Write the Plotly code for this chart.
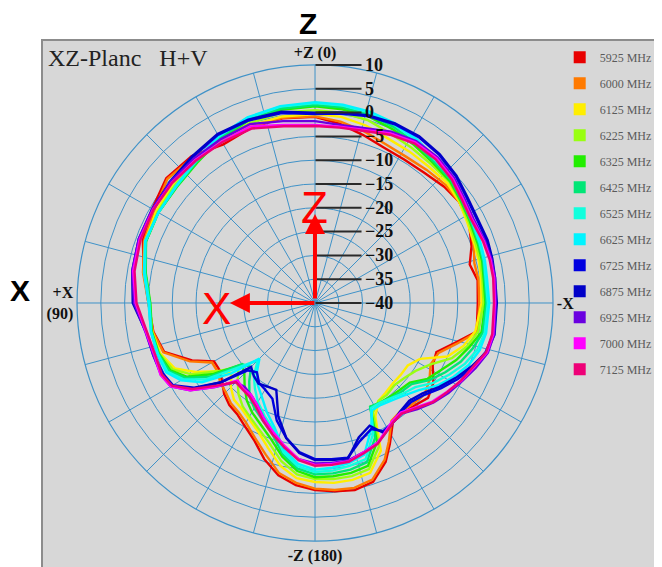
import plotly.graph_objects as go

# angles (deg) shared by every series; 0 = +Z (top), 90 = +X (left)
theta = [0, 10, 20, 30, 40, 50, 60, 70, 80, 90,
         100, 108, 115, 120, 125, 130, 135, 140, 145, 150,
         156, 162, 168, 174, 180,
         186, 192, 198, 204, 208,
         213, 218, 224, 230, 236,
         242, 248, 254, 260, 270,
         278, 284, 290, 298, 305,
         312, 320, 328, 336, 344, 352]

freqs = ["5925 MHz", "6000 MHz", "6125 MHz", "6225 MHz", "6325 MHz", "6425 MHz", "6525 MHz",
         "6625 MHz", "6725 MHz", "6875 MHz", "6925 MHz", "7000 MHz", "7125 MHz"]
colors = ["#e80000", "#ff7a00", "#ffee00", "#99ff11", "#22ee00", "#00e676", "#11ffdd",
          "#00f4ff", "#0000e0", "#0000c8", "#6a00e0", "#ff00ff", "#ee0077"]

gain_5925 = [-0.9, -0.6, -0.8, -1.5, 0.3, 0.8, -0.5, -1.5, -3.5, -5.0,
             -5.5, -6.7, -11.5, -15.5, -15.5, -14.5, -13.0, -12.0, -11.5, -10.3,
             -8.5, -5.5, -3.0, -1.5, -0.7,
             -0.2, 0.2, -0.5, -3.5, -6.5,
             -10.0, -10.5, -10.0, -9.0, -10.0,
             -12.0, -12.5, -9.5, -5.5, -5.8,
             -5.5, -6.5, -5.0, -3.4, -3.0,
             -3.5, -4.3, -4.5, -4.3, -3.3, -2.0]
gain_6000 = [-0.8, -0.5, -0.6, -1.0, 0.0, 0.5, -1.0, -1.8, -3.3, -5.0,
             -5.4, -6.5, -11.0, -15.0, -15.0, -14.0, -13.5, -12.5, -12.0, -11.0,
             -9.0, -6.5, -3.5, -2.0, -1.0,
             -0.5, -0.3, -1.0, -4.0, -7.0,
             -10.5, -11.0, -10.5, -10.0, -11.0,
             -12.5, -12.0, -9.0, -5.3, -5.5,
             -5.3, -5.5, -4.5, -3.6, -3.0,
             -3.0, -3.5, -3.8, -3.5, -2.5, -1.5]
gain_6125 = [-0.3, -0.2, -0.3, -0.7, -0.8, -1.0, -1.5, -2.0, -3.5, -5.2,
             -5.3, -5.8, -7.5, -11.0, -15.0, -17.0, -15.0, -13.5, -13.0, -12.0,
             -10.5, -8.0, -5.0, -3.0, -2.4,
             -2.0, -2.0, -2.5, -6.0, -13.0,
             -15.5, -16.0, -16.5, -16.5, -16.5,
             -15.0, -10.0, -7.5, -5.8, -5.0,
             -4.8, -4.5, -4.3, -3.8, -3.0,
             -2.5, -2.7, -2.5, -2.2, -1.2, -0.5]
gain_6225 = [0.5, 0.6, 0.2, -0.5, -1.2, -1.5, -1.8, -2.2, -3.8, -5.3,
             -5.2, -5.6, -7.0, -10.0, -15.0, -19.0, -17.0, -15.0, -13.5, -12.5,
             -11.0, -9.0, -6.0, -3.8, -3.0,
             -2.8, -2.8, -3.3, -7.0, -14.0,
             -15.5, -15.5, -16.0, -15.5, -14.5,
             -12.5, -9.0, -6.8, -5.2, -4.6,
             -4.5, -4.2, -4.0, -3.5, -2.8,
             -2.0, -2.0, -1.6, -1.0, 0.0, 0.4]
gain_6325 = [1.3, 1.2, 0.8, -0.2, -1.5, -2.1, -2.0, -2.2, -3.9, -5.4,
             -5.2, -5.5, -6.5, -9.0, -14.0, -20.0, -19.0, -17.0, -15.0, -13.5,
             -12.0, -10.0, -7.0, -4.5, -3.4,
             -3.4, -3.5, -4.0, -8.0, -15.3,
             -15.0, -14.8, -14.5, -14.0, -11.5,
             -10.0, -8.0, -6.3, -4.5, -4.2,
             -4.2, -3.8, -3.6, -3.2, -2.6,
             -1.8, -1.5, -0.8, 0.0, 0.8, 1.1]
gain_6425 = [1.6, 1.5, 1.0, 0.0, -1.3, -2.0, -2.0, -2.2, -3.8, -5.3,
             -5.1, -5.4, -6.2, -8.5, -13.0, -20.0, -21.0, -18.5, -16.0, -14.5,
             -13.0, -11.0, -7.5, -5.0, -4.0,
             -4.0, -4.2, -4.8, -9.0, -15.3,
             -15.0, -14.5, -14.0, -13.5, -11.0,
             -9.0, -7.0, -5.5, -4.2, -4.0,
             -4.0, -3.6, -3.4, -3.0, -2.4,
             -1.5, -1.2, -0.3, 0.5, 1.2, 1.5]
gain_6525 = [2.0, 1.9, 1.4, 0.4, -1.1, -1.9, -2.0, -2.1, -3.7, -5.2,
             -5.0, -5.3, -5.8, -8.0, -12.0, -19.0, -23.0, -20.0, -18.0, -16.0,
             -14.0, -12.0, -8.0, -5.5, -4.5,
             -4.6, -5.0, -5.5, -10.0, -15.0,
             -15.0, -14.5, -13.5, -12.5, -10.0,
             -8.0, -6.0, -4.5, -3.8, -3.7,
             -3.8, -3.4, -3.2, -2.8, -2.2,
             -1.2, -0.8, 0.2, 1.0, 1.6, 1.9]
gain_6625 = [2.2, 2.0, 1.5, 0.5, -1.0, -1.8, -2.0, -2.0, -3.5, -5.0,
             -5.0, -5.2, -5.5, -7.5, -11.0, -17.0, -23.5, -21.0, -19.0, -17.5,
             -15.0, -12.5, -8.5, -6.0, -5.0,
             -5.2, -5.6, -6.5, -11.0, -14.5,
             -14.5, -14.0, -13.0, -11.5, -9.0,
             -7.0, -5.2, -4.0, -3.5, -3.4,
             -3.5, -3.2, -3.0, -2.5, -2.0,
             -1.0, -0.5, 0.5, 1.3, 1.8, 2.1]
gain_6725 = [-0.3, 0.5, 0.8, 0.8, 0.0, -0.4, -0.6, -0.8, -1.2, -1.9,
             -4.1, -4.4, -4.8, -5.5, -9.0, -14.0, -20.0, -21.0, -19.5, -19.0,
             -18.0, -14.0, -11.0, -8.5, -7.2,
             -7.0, -6.8, -9.5, -11.0, -9.5,
             -10.0, -10.8, -11.0, -10.0, -8.0,
             -6.0, -4.2, -2.7, -2.0, -2.0,
             -2.0, -1.8, -1.6, -1.7, -1.2,
             -0.2, 0.6, 1.1, 1.1, 0.8, 0.2]
gain_6875 = [0.0, 0.8, 1.0, 1.0, 0.2, -0.3, -0.5, -0.6, -1.0, -1.7,
             -4.0, -4.3, -4.5, -5.2, -8.5, -14.0, -21.0, -20.0, -19.3, -19.8,
             -20.0, -15.0, -11.0, -8.3, -7.0,
             -6.8, -6.6, -10.3, -11.8, -9.0,
             -10.0, -11.0, -11.5, -10.5, -8.5,
             -6.5, -4.5, -2.5, -1.7, -1.8,
             -1.8, -1.6, -1.4, -1.5, -1.0,
             0.0, 0.8, 1.3, 1.3, 1.0, 0.4]
gain_6925 = [-1.8, -1.2, 0.0, -0.3, -0.4, -0.4, -0.5, -0.6, -1.0, -2.0,
             -3.9, -4.3, -4.3, -5.0, -8.0, -12.5, -16.5, -17.0, -16.5, -15.5,
             -13.5, -11.3, -9.0, -7.0, -6.3,
             -6.2, -6.2, -7.0, -7.8, -8.8,
             -10.0, -10.5, -9.0, -7.5, -6.2,
             -5.0, -3.6, -2.2, -1.8, -2.0,
             -1.8, -1.8, -2.0, -2.3, -1.7,
             -0.7, 0.0, 0.1, -0.6, -1.8, -2.2]
gain_7000 = [-2.6, -2.0, -0.5, -0.8, -0.8, -0.7, -0.7, -0.8, -1.2, -2.3,
             -4.0, -4.5, -4.2, -5.0, -8.0, -12.5, -17.0, -16.5, -16.5, -15.5,
             -13.5, -11.5, -9.3, -7.0, -6.0,
             -6.0, -6.0, -7.0, -7.8, -9.0,
             -10.3, -10.8, -9.5, -7.8, -6.6,
             -5.2, -4.0, -2.4, -2.0, -2.2,
             -2.0, -2.0, -2.2, -2.6, -2.0,
             -1.0, -0.3, -0.2, -1.0, -2.2, -2.6]
gain_7125 = [-2.8, -2.3, -1.0, -1.0, -1.0, -0.8, -0.8, -1.0, -1.5, -2.5,
             -4.2, -4.7, -4.5, -5.3, -8.5, -13.0, -16.5, -16.3, -16.0, -15.0,
             -13.0, -11.0, -9.0, -6.8, -5.8,
             -5.8, -5.9, -6.8, -7.6, -8.8,
             -10.0, -10.5, -9.3, -7.6, -6.5,
             -5.3, -4.2, -2.6, -2.2, -2.4,
             -2.2, -2.2, -2.4, -2.8, -2.3,
             -1.3, -0.6, -0.5, -1.3, -2.4, -2.8]

gains = [gain_5925, gain_6000, gain_6125, gain_6225, gain_6325, gain_6425, gain_6525,
         gain_6625, gain_6725, gain_6875, gain_6925, gain_7000, gain_7125]

r_ticks = [10, 5, 0, -5, -10, -15, -20, -25, -30, -35, -40]
ang_ticks = list(range(0, 360, 15))
ang_text = {0: "+Z (0)", 90: "+X<br>(90)", 180: "-Z (180)", 270: "-X"}

grid = "#3f92c8"
panel = "#d7d7d7"

fig = go.Figure()

for name, col, g in zip(freqs, colors, gains):
    fig.add_trace(go.Scatterpolar(
        r=g + [g[0]], theta=theta + [360],
        mode="lines", line=dict(color=col, width=2.4),
        name=name, legendgroup=name, showlegend=False,
    ))
    # square swatch for the legend
    fig.add_trace(go.Scatterpolar(
        r=[None], theta=[None], mode="markers",
        marker=dict(symbol="square", size=12, color=col),
        name=name, legendgroup=name, showlegend=True,
    ))

# page body has an 8px margin, so the figure is 8px smaller than the window
fig.update_layout(
    width=654, height=559,
    margin=dict(l=34, r=0, t=32, b=0, autoexpand=False),
    paper_bgcolor="white",
    polar=dict(
        domain=dict(x=[0.0565, 0.8242], y=[0.0493, 0.9526]),
        bgcolor=panel,
        radialaxis=dict(
            range=[-40, 10], tickvals=r_ticks, angle=90, side="clockwise",
            tickangle=90, showline=False, gridcolor=grid, gridwidth=1,
            ticks="outside", ticklen=46, tickwidth=1.5, tickcolor="#2a2a2a",
            tickfont=dict(family="Liberation Serif", size=18, color="#111", weight="bold"),
        ),
        angularaxis=dict(
            rotation=90, direction="counterclockwise",
            tickvals=ang_ticks, ticktext=[ang_text.get(a, "") for a in ang_ticks],
            ticks="", showline=True, linecolor=grid, linewidth=1.2,
            gridcolor=grid, gridwidth=1,
            tickfont=dict(family="Liberation Serif", size=16, color="#111", weight="bold"),
        ),
    ),
    legend=dict(
        x=0.835, y=0.995, xanchor="left", yanchor="top",
        bgcolor="rgba(0,0,0,0)", tracegroupgap=7,
        font=dict(family="Liberation Serif", size=12, color="#5a5a5a"),
    ),
    showlegend=True,
)

# grey panel with frame
fig.add_shape(type="rect", xref="paper", yref="paper", x0=0, x1=1.02, y0=-0.02, y1=1,
              fillcolor=panel, line=dict(color="#8c8c8c", width=2), layer="below")

cx, cy = 0.4403, 0.5009
fig.add_annotation(xref="paper", yref="paper", x=0.0, y=0.965, xanchor="left", yanchor="middle",
                   xshift=4, text="XZ-Planc   H+V", showarrow=False,
                   font=dict(family="Liberation Serif", size=24, color="#222"))
# red local axes
fig.add_annotation(xref="paper", yref="paper", x=cx, y=0.67, ax=0, ay=86, text="",
                   showarrow=True, arrowhead=2, arrowsize=1, arrowwidth=4, arrowcolor="#ff0000")
fig.add_annotation(xref="paper", yref="paper", x=0.303, y=cy, ax=86, ay=0, text="",
                   showarrow=True, arrowhead=2, arrowsize=1, arrowwidth=4, arrowcolor="#ff0000")
fig.add_annotation(xref="paper", yref="paper", x=cx, y=0.683, xanchor="center", yanchor="middle",
                   text="Z", showarrow=False,
                   font=dict(family="Liberation Sans", size=44, color="#ff0000"))
fig.add_annotation(xref="paper", yref="paper", x=0.282, y=0.4896, xanchor="center", yanchor="middle",
                   text="X", showarrow=False,
                   font=dict(family="Liberation Sans", size=44, color="#ff0000"))
# outer labels
fig.add_annotation(xref="paper", yref="paper", x=0.429, y=1.0, xanchor="center", yanchor="bottom",
                   yshift=-2, text="<b>Z</b>", showarrow=False,
                   font=dict(family="Liberation Sans", size=30, color="black"))
fig.add_annotation(xref="paper", yref="paper", x=0.0, y=0.525, xanchor="right", yanchor="middle",
                   xshift=-10, text="<b>X</b>", showarrow=False,
                   font=dict(family="Liberation Sans", size=30, color="black"))

fig.write_html("out.html")
